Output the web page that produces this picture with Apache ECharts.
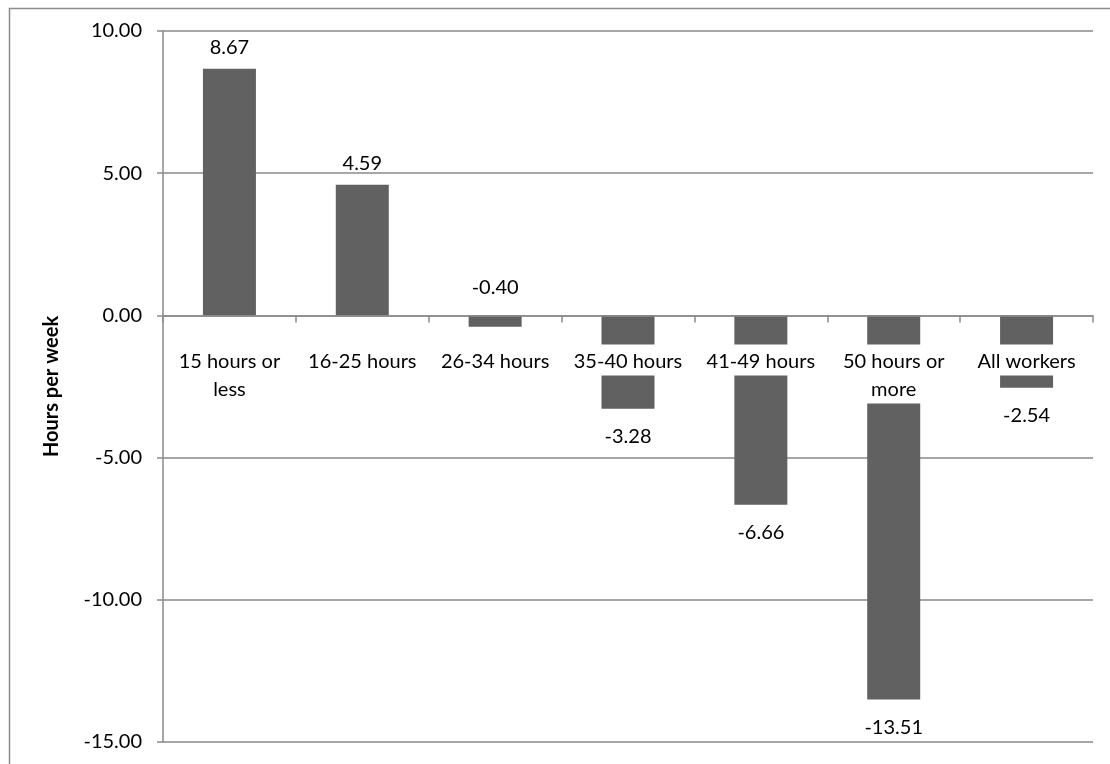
<!DOCTYPE html>
<html>
<head>
<meta charset="utf-8">
<script src="https://cdn.jsdelivr.net/npm/echarts@6/dist/echarts.min.js"></script>
<style>
  html, body { margin: 0; padding: 0; background: #fff; }
  #chart { width: 1110px; height: 764px; }
</style>
</head>
<body>
<div id="chart"></div>
<script>
const categories = ['15 hours or\nless', '16-25 hours', '26-34 hours', '35-40 hours', '41-49 hours', '50 hours or\nmore', 'All workers'];
const values = [8.67, 4.59, -0.40, -3.28, -6.66, -13.51, -2.54];
const yMin = -15, yMax = 10, yStep = 5;
const yTitle = 'Hours per week';

const FONT = 'Lato, "Open Sans", sans-serif';
const GRAY = '#8a8a8a';
const W = 1110, H = 764;
const G = { left: 163, right: 17, top: 31, bottom: 22 };
// distance from grid bottom up to the zero line, derived from the axis range
const plotH = H - G.top - G.bottom;
const zeroOffset = -plotH * (0 - yMin) / (yMax - yMin);

const barData = values.map(v => {
  const above = v >= 0 || Math.abs(v) < 1;
  return {
    value: v,
    label: {
      position: above ? 'top' : 'bottom',
      distance: v >= 0 ? 11 : 18
    }
  };
});

const chart = echarts.init(document.getElementById('chart'), null, { renderer: 'canvas' });
chart.setOption({
  backgroundColor: '#fff',
  animation: false,
  graphic: [{
    type: 'rect',
    left: 7, top: 6,
    shape: { width: 1200, height: 900 },
    style: { fill: 'none', stroke: '#8c8c8c', lineWidth: 1.5 },
    silent: true,
    z: -1
  }],
  grid: { left: G.left, right: G.right, top: G.top, bottom: G.bottom, containLabel: false, outerBoundsMode: 'none' },
  xAxis: {
    type: 'category',
    data: categories,
    z: 10,
    position: 'bottom',
    offset: zeroOffset,
    boundaryGap: true,
    axisLine: { show: true, onZero: false, lineStyle: { color: GRAY, width: 1.5 } },
    axisTick: { show: true, inside: false, length: 7, alignWithLabel: false, lineStyle: { color: GRAY, width: 1.5 } },
    axisLabel: {
      interval: 0,
      margin: 29,
      color: '#000',
      fontFamily: FONT,
      fontSize: 20,
      lineHeight: 28,
      backgroundColor: '#fff',
      padding: [3, 4, 0, 4],
      align: 'center',
      verticalAlign: 'top'
    },
    splitLine: { show: false }
  },
  yAxis: {
    type: 'value',
    min: yMin, max: yMax, interval: yStep,
    name: yTitle,
    nameLocation: 'middle',
    nameRotate: 90,
    nameGap: 101,
    nameTextStyle: { fontFamily: FONT, fontWeight: 'bold', fontSize: 20, color: '#000' },
    axisLine: { show: true, lineStyle: { color: GRAY, width: 1.5 } },
    axisTick: { show: true, inside: false, length: 6, lineStyle: { color: GRAY, width: 1.5 } },
    axisLabel: {
      margin: 21,
      color: '#000',
      fontFamily: FONT,
      fontSize: 20,
      formatter: v => v.toFixed(2)
    },
    splitLine: { show: true, lineStyle: { color: GRAY, width: 1.5 } }
  },
  series: [{
    type: 'bar',
    data: barData,
    barWidth: 53,
    itemStyle: { color: '#616161' },
    label: {
      show: true,
      color: '#000',
      fontFamily: FONT,
      fontSize: 20,
      formatter: p => p.value.toFixed(2)
    }
  }]
});
</script>
</body>
</html>
